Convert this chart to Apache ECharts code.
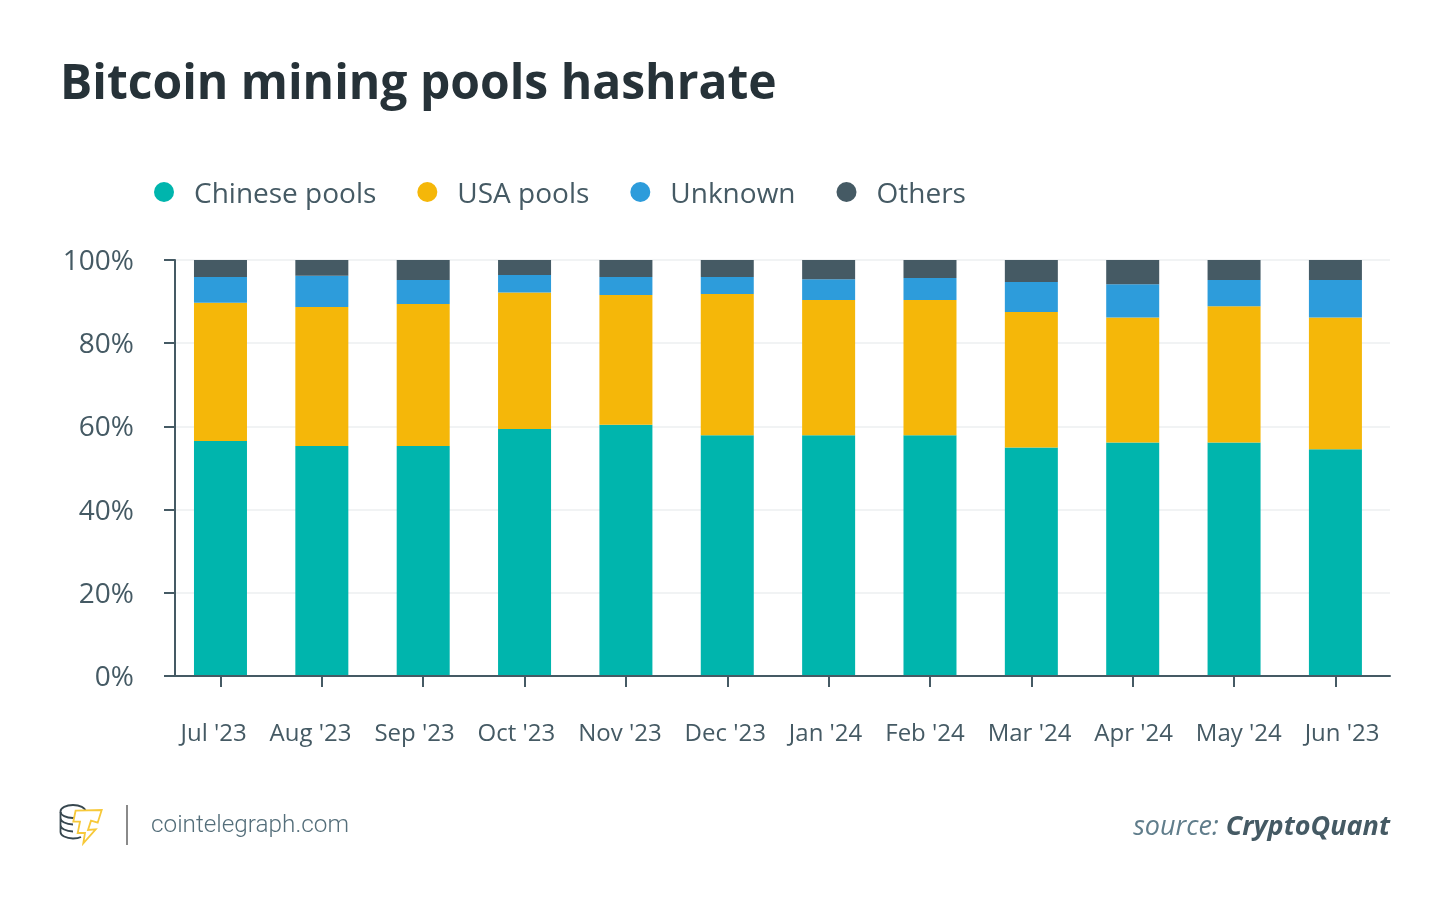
<!DOCTYPE html>
<html>
<head>
<meta charset="utf-8">
<title>Bitcoin mining pools hashrate</title>
<script src="https://cdn.jsdelivr.net/npm/echarts@6/dist/echarts.min.js"></script>
<style>
html,body{margin:0;padding:0;background:#fff;}
#chart{width:1450px;height:905px;}
</style>
</head>
<body>
<div id="chart"></div>
<script>
var months = ["Jul '23","Aug '23","Sep '23","Oct '23","Nov '23","Dec '23","Jan '24","Feb '24","Mar '24","Apr '24","May '24","Jun '23"];
var chinesePools = [56.5,55.3,55.3,59.4,60.4,57.9,57.9,57.9,54.9,56.1,56.1,54.5];
var usaPools = [33.2,33.4,34.1,32.8,31.2,33.9,32.5,32.5,32.6,30.1,32.8,31.7];
var unknownPools = [6.2,7.5,5.8,4.2,4.3,4.1,5.0,5.3,7.2,8.0,6.3,9.0];
var otherPools = [4.1,3.8,4.8,3.6,4.1,4.1,4.6,4.3,5.3,5.8,4.8,4.8];

var axisColor = '#455a64';
var textColor = '#455a64';
var font = '"Open Sans"';
var labelFontSize = 24;

//logo outline, the coin stack below the top ellipse
echarts.graphic.registerShape('coinStack', echarts.graphic.extendPath(
	'M60.5 812V832C60.5 835.5 66 838.5 73 838.5C76 838.5 79 838 81 837M60.5 818C60.5 821.5 66 824.5 73 824.5M60.5 825C60.5 828.5 66 831.5 73 831.5'));

//month labels are spread with equal gaps between them, not on the tick spacing
var labelLeft = 180.5, labelRight = 1379.5;
var labelGridLeft = 161.7, labelGridWidth = 1230.6;
function monthLabels(){
	var ctx = document.createElement('canvas').getContext('2d');
	ctx.font = labelFontSize + 'px ' + font;
	var widths = months.map(function(m){ return ctx.measureText(m).width; });
	var total = widths.reduce(function(a, b){ return a + b; }, 0);
	var gap = (labelRight - labelLeft - total) / (months.length - 1);
	var step = labelGridWidth / months.length;
	var x = labelLeft;
	return months.map(function(m, i){
		var shift = x + widths[i] / 2 - (labelGridLeft + step * (i + 0.5));
		x += widths[i] + gap;
		return {
			value: m,
			textStyle: {padding: shift > 0 ? [0, 0, 0, 2 * shift] : [0, -2 * shift, 0, 0]}
		};
	});
}

var chart = echarts.init(document.getElementById('chart'));

function barSeries(name, values, color){
	return {
		name: name,
		type: 'bar',
		stack: 'total',
		xAxisIndex: 0,
		yAxisIndex: 0,
		barWidth: 53,
		itemStyle: {color: color},
		data: values
	};
}

var option = {
	animation: false,
	backgroundColor: '#fff',
	title: [
		{text: 'Bitcoin mining pools hashrate', left: 55, top: 56,
			textStyle: {fontFamily: font, fontSize: 48, fontWeight: 700, color: '#263238'}},
		{text: 'cointelegraph.com', left: 146, top: 809,
			textStyle: {fontFamily: 'Roboto', fontSize: 24.3, fontWeight: 300, color: '#546e7a'}},
		{text: '{a|source: }{b|CryptoQuant}', right: 55, top: 809,
			textStyle: {fontWeight: 400, rich: {
				a: {fontFamily: font, fontSize: 27, fontStyle: 'italic', fontWeight: 400, color: '#607d8b'},
				b: {fontFamily: font, fontSize: 27, fontStyle: 'italic', fontWeight: 700, color: '#455a64'}
			}}}
	],
	legend: {
		left: 149, top: 176,
		icon: 'circle',
		itemWidth: 20, itemHeight: 20, itemGap: 41,
		formatter: '{t|{name}}',
		textStyle: {fontFamily: font, fontSize: 28, color: textColor, padding: [0,0,0,15],
			rich: {t: {fontFamily: font, fontSize: 28, color: textColor, padding: [6,0,0,0]}}},
		data: ['Chinese pools','USA pools','Unknown','Others']
	},
	grid: [
		//bars and their ticks
		{left: 169.8, width: 1216.3, top: 260, height: 416},
		//y axis, split lines, base line
		{left: 175, width: 1215, top: 260, height: 416},
		//month labels
		{left: labelGridLeft, width: labelGridWidth, top: 260, height: 416}
	],
	xAxis: [
		{type: 'category', gridIndex: 0, data: months,
			axisLine: {show: false},
			axisTick: {show: true, alignWithLabel: true, length: 11, lineStyle: {color: axisColor, width: 2}},
			axisLabel: {show: false}},
		{type: 'category', gridIndex: 1, data: months, z: 10,
			axisLine: {show: true, lineStyle: {color: axisColor, width: 2}},
			axisTick: {show: false},
			axisLabel: {show: false}},
		{type: 'category', gridIndex: 2, data: monthLabels(),
			axisLine: {show: false},
			axisTick: {show: false},
			axisLabel: {show: true, interval: 0, margin: 46, fontFamily: font, fontSize: labelFontSize, color: textColor}}
	],
	yAxis: [
		{type: 'value', gridIndex: 0, min: 0, max: 100, show: false},
		{type: 'value', gridIndex: 1, min: 0, max: 100, interval: 20,
			axisLine: {show: true, lineStyle: {color: axisColor, width: 2}},
			axisTick: {show: true, length: 11, lineStyle: {color: axisColor, width: 2}},
			axisLabel: {margin: 41, color: textColor, formatter: '{t|{value}%}',
				rich: {t: {fontFamily: font, fontSize: 28, color: textColor, padding: [4,0,0,0]}}},
			splitLine: {show: true, lineStyle: {color: '#f1f3f4', width: 2}}},
		{type: 'value', gridIndex: 2, min: 0, max: 100, show: false}
	],
	series: [
		barSeries('Chinese pools', chinesePools, '#00b5ad'),
		barSeries('USA pools', usaPools, '#f5b709'),
		barSeries('Unknown', unknownPools, '#2d9cdb'),
		barSeries('Others', otherPools, '#455a64')
	],
	graphic: [
		{type: 'group', silent: true, children: [
			{type: 'ellipse', shape: {cx: 73, cy: 811.5, rx: 12.5, ry: 6.5}, style: {fill: 'none', stroke: '#37474f', lineWidth: 1.8}},
			{type: 'coinStack', style: {fill: 'none', stroke: '#37474f', lineWidth: 1.8}},
			//logo bolt
			{type: 'polygon', shape: {points: [[75.6,810.7],[101.7,810],[97.7,822.7],[91,820.7],[88,830],[95.7,829.3],[83.3,843.3],[85,833],[77.7,833],[80,821.7],[73.3,821.7]]},
				style: {fill: '#fff', stroke: '#f7c93a', lineWidth: 1.8}},
			{type: 'line', shape: {x1: 127, y1: 805, x2: 127, y2: 845}, style: {stroke: '#8a8a8a', lineWidth: 2}}
		]}
	]
};
chart.setOption(option);
</script>
</body>
</html>
